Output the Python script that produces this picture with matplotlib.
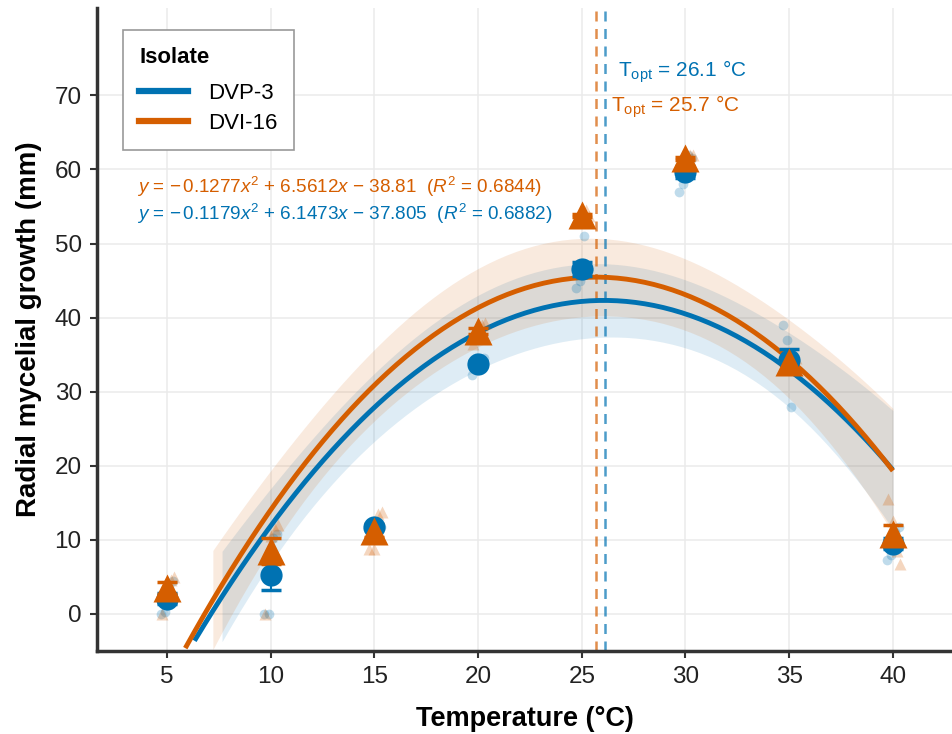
import numpy as np
import matplotlib
matplotlib.use("Agg")
import matplotlib.pyplot as plt
from matplotlib.lines import Line2D

plt.rcParams['font.family'] = ['Liberation Sans', 'DejaVu Sans']
plt.rcParams['mathtext.fontset'] = 'custom'
plt.rcParams['mathtext.rm'] = 'Liberation Sans'
plt.rcParams['mathtext.it'] = 'Liberation Sans:italic'

# Datos (lecturas del gráfico)
temps = [5, 10, 15, 20, 25, 30, 35, 40]
isolates = ['DVP-3', 'DVI-16']

# Réplicas por temperatura (crecimiento radial, mm)
reps_dvp3 = [
    [0.0, 0.3, 3.5, 4.5, 2.0, 2.2],
    [0.0, 0.0, 10.2, 10.8, 5.0, 5.2],
    [11.5, 12.0, 12.0, 11.8, 11.8, 11.7],
    [32.3, 34.5, 34.0, 34.5, 33.8, 33.7],
    [44.0, 45.0, 51.0, 46.5, 46.6, 46.5],
    [57.0, 58.0, 62.0, 61.5, 59.8, 59.9],
    [39.0, 37.0, 28.0, 32.8, 34.2, 34.3],
    [7.3, 8.0, 11.0, 11.7, 9.5, 9.5],
]
reps_dvi16 = [
    [0.0, 4.5, 4.6, 5.0, 3.5, 3.4],
    [0.0, 10.5, 11.5, 12.0, 8.6, 8.5],
    [8.8, 8.8, 13.5, 13.7, 11.2, 11.2],
    [36.5, 38.0, 39.0, 39.3, 38.2, 38.2],
    [53.0, 54.0, 54.5, 53.7, 53.8, 53.8],
    [60.5, 61.5, 62.0, 62.0, 61.6, 61.5],
    [33.0, 34.0, 34.5, 34.5, 34.0, 34.0],
    [15.5, 12.5, 8.5, 6.7, 10.8, 10.8],
]

# Coeficientes del ajuste cuadrático (a, b, c) y R2
coef_dvp3 = [-0.1179, 6.1473, -37.805]
coef_dvi16 = [-0.1277, 6.5612, -38.81]
r2_dvp3 = 0.6882
r2_dvi16 = 0.6844
topt_dvp3 = 26.1
topt_dvi16 = 25.7

x_ticks = [5, 10, 15, 20, 25, 30, 35, 40]
y_ticks = [0, 10, 20, 30, 40, 50, 60, 70]

c_blue = '#0072B2'
c_orange = '#D55E00'

YMIN, YMAX = -5, 81.8
T975 = 2.021  # t(0.975, gl = 45)


def banda(coef, reps):
    x = np.repeat(temps, [len(r) for r in reps]).astype(float)
    y = np.concatenate(reps)
    X = np.column_stack([np.ones_like(x), x, x ** 2])
    a, b, c = coef
    res = y - (a * x ** 2 + b * x + c)
    s2 = np.sum(res ** 2) / (len(y) - 3)
    XtXi = np.linalg.inv(X.T @ X)
    xs = np.linspace(min(temps), max(temps), 80)
    X0 = np.column_stack([np.ones_like(xs), xs, xs ** 2])
    fit = a * xs ** 2 + b * xs + c
    se = np.sqrt(s2 * np.einsum('ij,jk,ik->i', X0, XtXi, X0))
    return xs, fit, fit - T975 * se, fit + T975 * se


fig = plt.figure(figsize=(9.52, 7.34), dpi=100)
ax = fig.add_axes([0.1019, 0.1131, 0.8981, 0.876])

series = [
    (reps_dvp3, coef_dvp3, c_blue, 'o', 16, 7, [-0.3, -0.1, 0.1, 0.3, 0.0, 0.0]),
    (reps_dvi16, coef_dvi16, c_orange, '^', 20, 8, [-0.25, 0.0, 0.2, 0.35, 0.0, 0.0]),
]

# Bandas de confianza
for reps, coef, col, mk, ms, msr, jit in series:
    xs, fit, lo, hi = banda(coef, reps)
    ok = lo >= YMIN
    ax.fill_between(xs[ok], lo[ok], hi[ok], color=col, alpha=0.13, lw=0, zorder=1)

# Curvas ajustadas
for reps, coef, col, mk, ms, msr, jit in series:
    xs, fit, lo, hi = banda(coef, reps)
    ok = fit >= YMIN
    ax.plot(xs[ok], fit[ok], color=col, lw=3.5, zorder=3, solid_capstyle='butt')

# Temperatura óptima
ax.axvline(topt_dvi16, color=c_orange, ls=(0, (4, 3)), lw=1.8, alpha=0.7, zorder=2)
ax.axvline(topt_dvp3, color=c_blue, ls=(0, (4, 3)), lw=1.8, alpha=0.7, zorder=2)

# Réplicas, error estándar y medias
for reps, coef, col, mk, ms, msr, jit in series:
    for t, r in zip(temps, reps):
        ax.plot(np.array(jit) + t, r, ls='none', marker=mk, ms=msr, color=col,
                alpha=0.25, mec='none', zorder=4)
    medias = np.array([np.mean(r) for r in reps])
    ee = np.array([np.std(r, ddof=1) / np.sqrt(len(r)) for r in reps])
    ax.errorbar(temps, medias, yerr=ee, fmt='none', ecolor=col, elinewidth=1.5,
                capsize=7, capthick=2.5, zorder=5)
    ax.plot(temps, medias, ls='none', marker=mk, ms=ms, color=col, mec='none', zorder=6)

# Ecuaciones
eq_o = (r'$y$ = $-\,$0.1277$x^2$ + 6.5612$x$ $-$ 38.81  ($R^2$ = %.4f)' % r2_dvi16)
eq_b = (r'$y$ = $-\,$0.1179$x^2$ + 6.1473$x$ $-$ 37.805  ($R^2$ = %.4f)' % r2_dvp3)
ax.text(3.55, 57.7, eq_o, color=c_orange, fontsize=13.6, va='center', ha='left', zorder=7)
ax.text(3.55, 54.0, eq_b, color=c_blue, fontsize=13.6, va='center', ha='left', zorder=7)

ax.text(26.75, 73.2, r'T$_{\mathrm{opt}}$ = %.1f °C' % topt_dvp3, color=c_blue,
        fontsize=15, va='center', ha='left', zorder=7)
ax.text(26.4, 68.5, r'T$_{\mathrm{opt}}$ = %.1f °C' % topt_dvi16, color=c_orange,
        fontsize=15, va='center', ha='left', zorder=7)

ax.set_xlim(1.63, 42.85)
ax.set_ylim(YMIN, YMAX)
ax.set_xticks(x_ticks)
ax.set_yticks(y_ticks)
ax.grid(True, color='#ebebeb', lw=1.1, zorder=0)
ax.set_axisbelow(True)
for s in ['top', 'right']:
    ax.spines[s].set_visible(False)
for s in ['left', 'bottom']:
    ax.spines[s].set_color('#333333')
    ax.spines[s].set_linewidth(2.5)
ax.tick_params(axis='both', length=5, width=1.5, color='#333333',
               labelsize=17.5, labelcolor='#222222', pad=6)

ax.set_xlabel('Temperature (°C)', fontsize=19.5, fontweight='bold', labelpad=13)
ax.set_ylabel('Radial mycelial growth (mm)', fontsize=20, fontweight='bold', labelpad=9)

handles = [Line2D([0], [0], color=c_blue, lw=4.5),
           Line2D([0], [0], color=c_orange, lw=4.5)]
leg = ax.legend(handles, isolates, title='Isolate', loc='upper left',
                bbox_to_anchor=(0.03, 0.966), borderaxespad=0, fontsize=16,
                title_fontsize=16, frameon=True, fancybox=False, edgecolor='#999999',
                framealpha=1, borderpad=0.75, handlelength=2.2, handletextpad=0.9,
                labelspacing=0.4)
leg.get_title().set_fontweight('bold')
leg._legend_box.align = 'left'
leg._legend_box.sep = 11
leg.get_frame().set_linewidth(1.2)

fig.savefig('out.png', dpi=100)
